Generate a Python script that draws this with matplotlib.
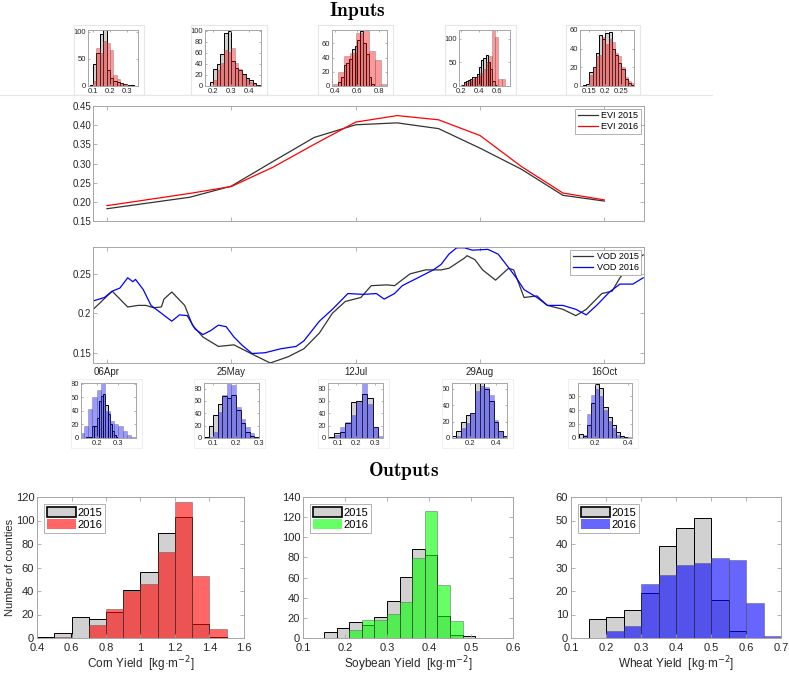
import numpy as np
import matplotlib
matplotlib.use("Agg")
import matplotlib.pyplot as plt
from matplotlib.patches import Patch, Rectangle
from matplotlib.lines import Line2D
from matplotlib.ticker import MultipleLocator, FuncFormatter

plt.rcParams["font.family"] = ["Liberation Sans", "DejaVu Sans"]

W, H = 789, 675

# ---------------- data ----------------
date_labels = ["06Apr", "25May", "12Jul", "29Aug", "16Oct"]

# EVI, 16-day composites (day of year)
evi_doy = [96, 112, 128, 144, 160, 176, 192, 208, 224, 240, 256, 272, 288]
evi_2015 = [0.182, 0.197, 0.212, 0.241, 0.305, 0.368, 0.401, 0.406, 0.391, 0.340, 0.285, 0.217, 0.202]
evi_2016 = [0.190, 0.206, 0.222, 0.240, 0.290, 0.350, 0.408, 0.425, 0.414, 0.373, 0.292, 0.223, 0.205]

# VOD, smoothed daily series
vod_2015_doy = [91, 98, 104, 108, 111, 114, 117, 118, 121, 126, 129, 133, 139, 145, 151, 159, 166,
                172, 178, 183, 188, 194, 198, 204, 207, 213, 219, 225, 228, 234, 235, 238, 241,
                246, 251, 253, 257, 262, 266, 272, 277, 281, 287, 291, 294, 299, 303]
vod_2015 = [0.206, 0.228, 0.208, 0.210, 0.210, 0.207, 0.208, 0.218, 0.227, 0.210, 0.185, 0.170,
            0.158, 0.160, 0.150, 0.137, 0.145, 0.155, 0.175, 0.200, 0.215, 0.220, 0.235, 0.236,
            0.235, 0.250, 0.255, 0.255, 0.257, 0.270, 0.273, 0.268, 0.255, 0.242, 0.257, 0.255,
            0.220, 0.222, 0.210, 0.205, 0.197, 0.205, 0.225, 0.228, 0.245, 0.265, 0.274]
vod_2016_doy = [91, 95, 98, 101, 104, 106, 107, 110, 113, 117, 121, 124, 127, 130, 133, 136, 139,
                142, 145, 148, 152, 157, 163, 169, 172, 178, 183, 189, 195, 200, 203, 207, 210,
                216, 222, 225, 228, 231, 234, 237, 243, 247, 251, 254, 257, 262, 266, 272, 277,
                281, 285, 290, 294, 299, 303]
vod_2016 = [0.216, 0.220, 0.228, 0.232, 0.245, 0.240, 0.243, 0.230, 0.210, 0.200, 0.190, 0.198,
            0.197, 0.180, 0.173, 0.178, 0.185, 0.183, 0.170, 0.160, 0.149, 0.150, 0.155, 0.158,
            0.165, 0.190, 0.205, 0.225, 0.224, 0.225, 0.218, 0.225, 0.235, 0.245, 0.255, 0.262,
            0.275, 0.283, 0.283, 0.280, 0.281, 0.275, 0.258, 0.245, 0.230, 0.220, 0.210, 0.210,
            0.205, 0.198, 0.210, 0.227, 0.237, 0.237, 0.245]

# input histograms: (first bin edge, bin width, counts)
evi_hist_2015 = [
    (0.08, 0.02, [2, 40, 60, 95, 103, 30, 15, 10, 7, 5, 3, 2, 1, 0]),
    (0.18, 0.02, [8, 30, 40, 57, 95, 100, 45, 32, 28, 22, 15, 10, 5, 2]),
    (0.43, 0.025, [5, 12, 30, 32, 38, 52, 57, 65, 78, 60, 45, 12, 3]),
    (0.20, 0.025, [3, 8, 10, 12, 15, 18, 20, 25, 40, 55, 58, 65, 50, 35, 10, 3]),
    (0.13, 0.01, [1, 2, 15, 20, 35, 55, 50, 57, 58, 40, 33, 25, 18, 8, 3, 1]),
]
evi_hist_2016 = [
    (0.08, 0.02, [0, 10, 70, 60, 83, 80, 67, 20, 12, 5, 3, 1, 0, 0]),
    (0.18, 0.02, [0, 10, 28, 42, 65, 62, 68, 42, 30, 20, 12, 8, 3, 1]),
    (0.375, 0.055, [3, 20, 42, 47, 75, 79, 50, 37, 3]),
    (0.20, 0.035, [2, 6, 10, 14, 18, 22, 28, 35, 50, 63, 118, 103, 15, 15]),
    (0.15, 0.01, [12, 20, 32, 33, 52, 45, 50, 47, 35, 32, 20, 10, 5, 3]),
]
vod_hist_2015 = [
    (0.15, 0.01, [1, 2, 2, 18, 18, 30, 55, 62, 65, 48, 35, 20, 10, 5, 2]),
    (0.06, 0.02, [2, 20, 37, 55, 68, 65, 70, 45, 25, 10, 3, 1]),
    (0.05, 0.03, [1, 8, 10, 25, 58, 60, 72, 65, 18, 0]),
    (0.065, 0.035, [2, 8, 20, 28, 31, 67, 67, 60, 45, 20, 8, 3]),
    (0.10, 0.025, [6, 3, 18, 50, 78, 72, 45, 30, 18, 8, 3, 1, 0]),
]
vod_hist_2016 = [
    (0.12, 0.02, [7, 17, 43, 60, 70, 81, 40, 25, 20, 18, 10, 5, 1]),
    (0.06, 0.02, [0, 2, 10, 42, 70, 89, 85, 50, 30, 18, 8, 1]),
    (0.05, 0.03, [0, 5, 18, 26, 38, 58, 89, 55, 18, 3]),
    (0.065, 0.035, [0, 2, 12, 18, 31, 57, 63, 62, 52, 22, 8, 2]),
    (0.10, 0.025, [0, 5, 35, 62, 70, 60, 40, 25, 15, 5, 2, 1, 1]),
]

# output yield histograms
corn_bins = (0.4, 0.1)
corn_2015 = [1, 4, 18, 16, 22, 41, 56, 89, 103, 12, 1]
corn_2016 = [0, 1, 0, 11, 25, 40, 46, 73, 116, 53, 8]
soy_bins = (0.15, 0.03)
soy_2015 = [6, 10, 16, 13, 21, 37, 61, 88, 82, 22, 3, 2]
soy_2016 = [0, 0, 8, 18, 18, 24, 36, 79, 126, 53, 17, 0]
wheat_bins = (0.15, 0.05)
wheat_2015 = [8, 9, 12, 19, 39, 47, 51, 16, 3, 0, 0]
wheat_2016 = [0, 3, 5, 23, 27, 31, 32, 34, 33, 15, 1]

# ---------------- figure ----------------
fig = plt.figure(figsize=(W / 100, H / 100), dpi=100)

GRAY = (0.7, 0.7, 0.7, 0.6)
FRAME = "#a6a6a6"
TXT = "#262626"


def px_axes(x0, y0, x1, y1):
    return fig.add_axes([x0 / W, 1 - y1 / H, (x1 - x0) / W, (y1 - y0) / H])


def fig_rect(x0, y0, x1, y1, color):
    fig.patches.append(Rectangle((x0 / W, 1 - y1 / H), (x1 - x0) / W, (y1 - y0) / H,
                                 transform=fig.transFigure, fill=False, edgecolor=color,
                                 linewidth=0.8, zorder=0))


def matlab_box(ax, size, length=2.5):
    for s in ax.spines.values():
        s.set_color(FRAME)
        s.set_linewidth(0.7)
    ax.tick_params(direction="in", length=length, width=0.6, color=FRAME,
                   labelsize=size, labelcolor=TXT, top=True, right=True, pad=1.5)


def draw_hist(ax, h15, h16, color, alpha):
    start, width, counts = h15
    ax.bar(start + width * np.arange(len(counts)), counts, width=width, align="edge",
           facecolor=GRAY, edgecolor="k", linewidth=0.7)
    start, width, counts = h16
    ax.bar(start + width * np.arange(len(counts)), counts, width=width, align="edge",
           facecolor=color, edgecolor=(0.3, 0.3, 0.3, 0.5), linewidth=0.5, alpha=alpha)


fmt_g = FuncFormatter(lambda v, p: f"{v:g}")

# titles
fig.text(357 / W, 1 - 11 / H, r"$\mathbf{Inputs}$", ha="center", va="center",
         fontsize=14, math_fontfamily="cm")
fig.text(404 / W, 1 - 471 / H, r"$\mathbf{Outputs}$", ha="center", va="center",
         fontsize=14, math_fontfamily="cm")

# EVI inset histograms
top_boxes = [(88, 138), (205, 261), (332, 387), (459, 510), (580, 634)]
top_lims = [((0.07, 0.366), 103, 0.1, 50), ((0.154, 0.465), 101, 0.1, 20),
            ((0.376, 0.87), 79, 0.2, 20), ((0.174, 0.75), 118, 0.2, 50),
            ((0.121, 0.289), 60, 0.05, 20)]
fig.lines.append(Line2D([0, 712 / W], [1 - 95 / H] * 2, transform=fig.transFigure,
                        color="#e6e6e6", linewidth=0.8))
for (x0, x1), lim, h15, h16 in zip(top_boxes, top_lims, evi_hist_2015, evi_hist_2016):
    fig_rect(x0 - 14, 25, x1 + 6, 95, "#e6e6e6")
    ax = px_axes(x0, 30, x1, 86)
    draw_hist(ax, h15, h16, "#ff0000", 0.4)
    ax.set_xlim(*lim[0])
    ax.set_ylim(0, lim[1])
    ax.xaxis.set_major_locator(MultipleLocator(lim[2]))
    ax.yaxis.set_major_locator(MultipleLocator(lim[3]))
    ax.xaxis.set_major_formatter(fmt_g)
    ax.yaxis.set_major_formatter(fmt_g)
    matlab_box(ax, 5.5, 1.5)

# EVI time series
ax = px_axes(93, 106, 644, 221)
ax.plot(evi_doy, evi_2015, color="#333333", linewidth=0.9, label="EVI 2015")
ax.plot(evi_doy, evi_2016, color="#ff0000", linewidth=0.9, label="EVI 2016")
ax.set_xlim(90.6, 303.3)
ax.set_ylim(0.15, 0.45)
ax.set_xticks(evi_doy[::3])
ax.set_xticklabels([])
ax.set_yticks(np.arange(0.15, 0.451, 0.05))
ax.yaxis.set_major_formatter(FuncFormatter(lambda v, p: f"{v:.2f}"))
matlab_box(ax, 7, 3)
leg = ax.legend(loc="upper right", fontsize=6.5, handlelength=2.2, borderpad=0.3,
                labelspacing=0.2, handletextpad=0.4, fancybox=False, framealpha=1,
                borderaxespad=0.3)
leg.get_frame().set_edgecolor(FRAME)
leg.get_frame().set_linewidth(0.6)

# VOD time series
ax = px_axes(93, 247, 644, 363)
ax.plot(vod_2015_doy, vod_2015, color="#333333", linewidth=0.9, label="VOD 2015")
ax.plot(vod_2016_doy, vod_2016, color="#0000ff", linewidth=0.9, label="VOD 2016")
ax.set_xlim(90.6, 303.3)
ax.set_ylim(0.137, 0.284)
ax.set_xticks(evi_doy[::3])
ax.set_xticklabels(date_labels)
ax.set_yticks([0.15, 0.2, 0.25])
ax.yaxis.set_major_formatter(fmt_g)
matlab_box(ax, 7, 3)
ax.tick_params(axis="x", pad=3)
leg = ax.legend(loc="upper right", fontsize=6.5, handlelength=2.2, borderpad=0.3,
                labelspacing=0.2, handletextpad=0.4, fancybox=False, framealpha=1,
                borderaxespad=0.3)
leg.get_frame().set_edgecolor(FRAME)
leg.get_frame().set_linewidth(0.6)

# VOD inset histograms
bot_boxes = [(81, 136), (204, 259), (328, 383), (452, 507), (578, 632)]
bot_lims = [((0.128, 0.381), 81, 0.1, 20), ((0.06, 0.30), 89, 0.1, 20),
            ((0.045, 0.345), 89, 0.1, 20), ((0.0675, 0.48), 67, 0.2, 20),
            ((0.094, 0.425), 79, 0.2, 20)]
for (x0, x1), lim, h15, h16 in zip(bot_boxes, bot_lims, vod_hist_2015, vod_hist_2016):
    fig_rect(x0 - 10, 379, x1 + 6, 448, "#f0f0f0")
    ax = px_axes(x0, 383, x1, 438)
    draw_hist(ax, h15, h16, "#0000ff", 0.4)
    ax.set_xlim(*lim[0])
    ax.set_ylim(0, lim[1])
    ax.xaxis.set_major_locator(MultipleLocator(lim[2]))
    ax.yaxis.set_major_locator(MultipleLocator(lim[3]))
    ax.xaxis.set_major_formatter(fmt_g)
    ax.yaxis.set_major_formatter(fmt_g)
    matlab_box(ax, 5.5, 1.5)

# output yield histograms
outputs = [
    ((37, 244), corn_bins, corn_2015, corn_2016, "#ff0000", (0.4, 1.6), 120, 20,
     "Corn Yield  [kg·m$^{-2}$]"),
    ((303, 513), soy_bins, soy_2015, soy_2016, "#00ff00", (0.1, 0.6), 140, 20,
     "Soybean Yield  [kg·m$^{-2}$]"),
    ((571, 781), wheat_bins, wheat_2015, wheat_2016, "#0000ff", (0.1, 0.7), 60, 10,
     "Wheat Yield  [kg·m$^{-2}$]"),
]
for (x0, x1), bins, y15, y16, color, xlim, ytop, ystep, xlabel in outputs:
    ax = px_axes(x0, 497, x1, 638)
    draw_hist(ax, (bins[0], bins[1], y15), (bins[0], bins[1], y16), color, 0.6)
    ax.set_xlim(*xlim)
    ax.set_ylim(0, ytop)
    ax.xaxis.set_major_locator(MultipleLocator(0.2 if xlim[1] > 1 else 0.1))
    ax.yaxis.set_major_locator(MultipleLocator(ystep))
    ax.xaxis.set_major_formatter(fmt_g)
    ax.yaxis.set_major_formatter(fmt_g)
    matlab_box(ax, 8, 3)
    ax.tick_params(axis="y", pad=2)
    ax.tick_params(axis="x", pad=3.5)
    ax.set_xlabel(xlabel, fontsize=8.5, color=TXT, labelpad=1)
    handles = [Patch(facecolor=GRAY, edgecolor="k", linewidth=1.2, label="2015"),
               Patch(facecolor=color, alpha=0.6, edgecolor="none", label="2016")]
    leg = ax.legend(handles=handles, loc="upper left", fontsize=8, handlelength=2.6,
                    handleheight=1.0, borderpad=0.3, labelspacing=0.1, handletextpad=0.1,
                    fancybox=False, framealpha=1, borderaxespad=0.6)
    leg.get_frame().set_edgecolor(FRAME)
    leg.get_frame().set_linewidth(0.6)
    if x0 < 100:
        ax.set_ylabel("Number of counties", fontsize=8, color=TXT, labelpad=0.5)

fig.savefig("out.png", dpi=100)
